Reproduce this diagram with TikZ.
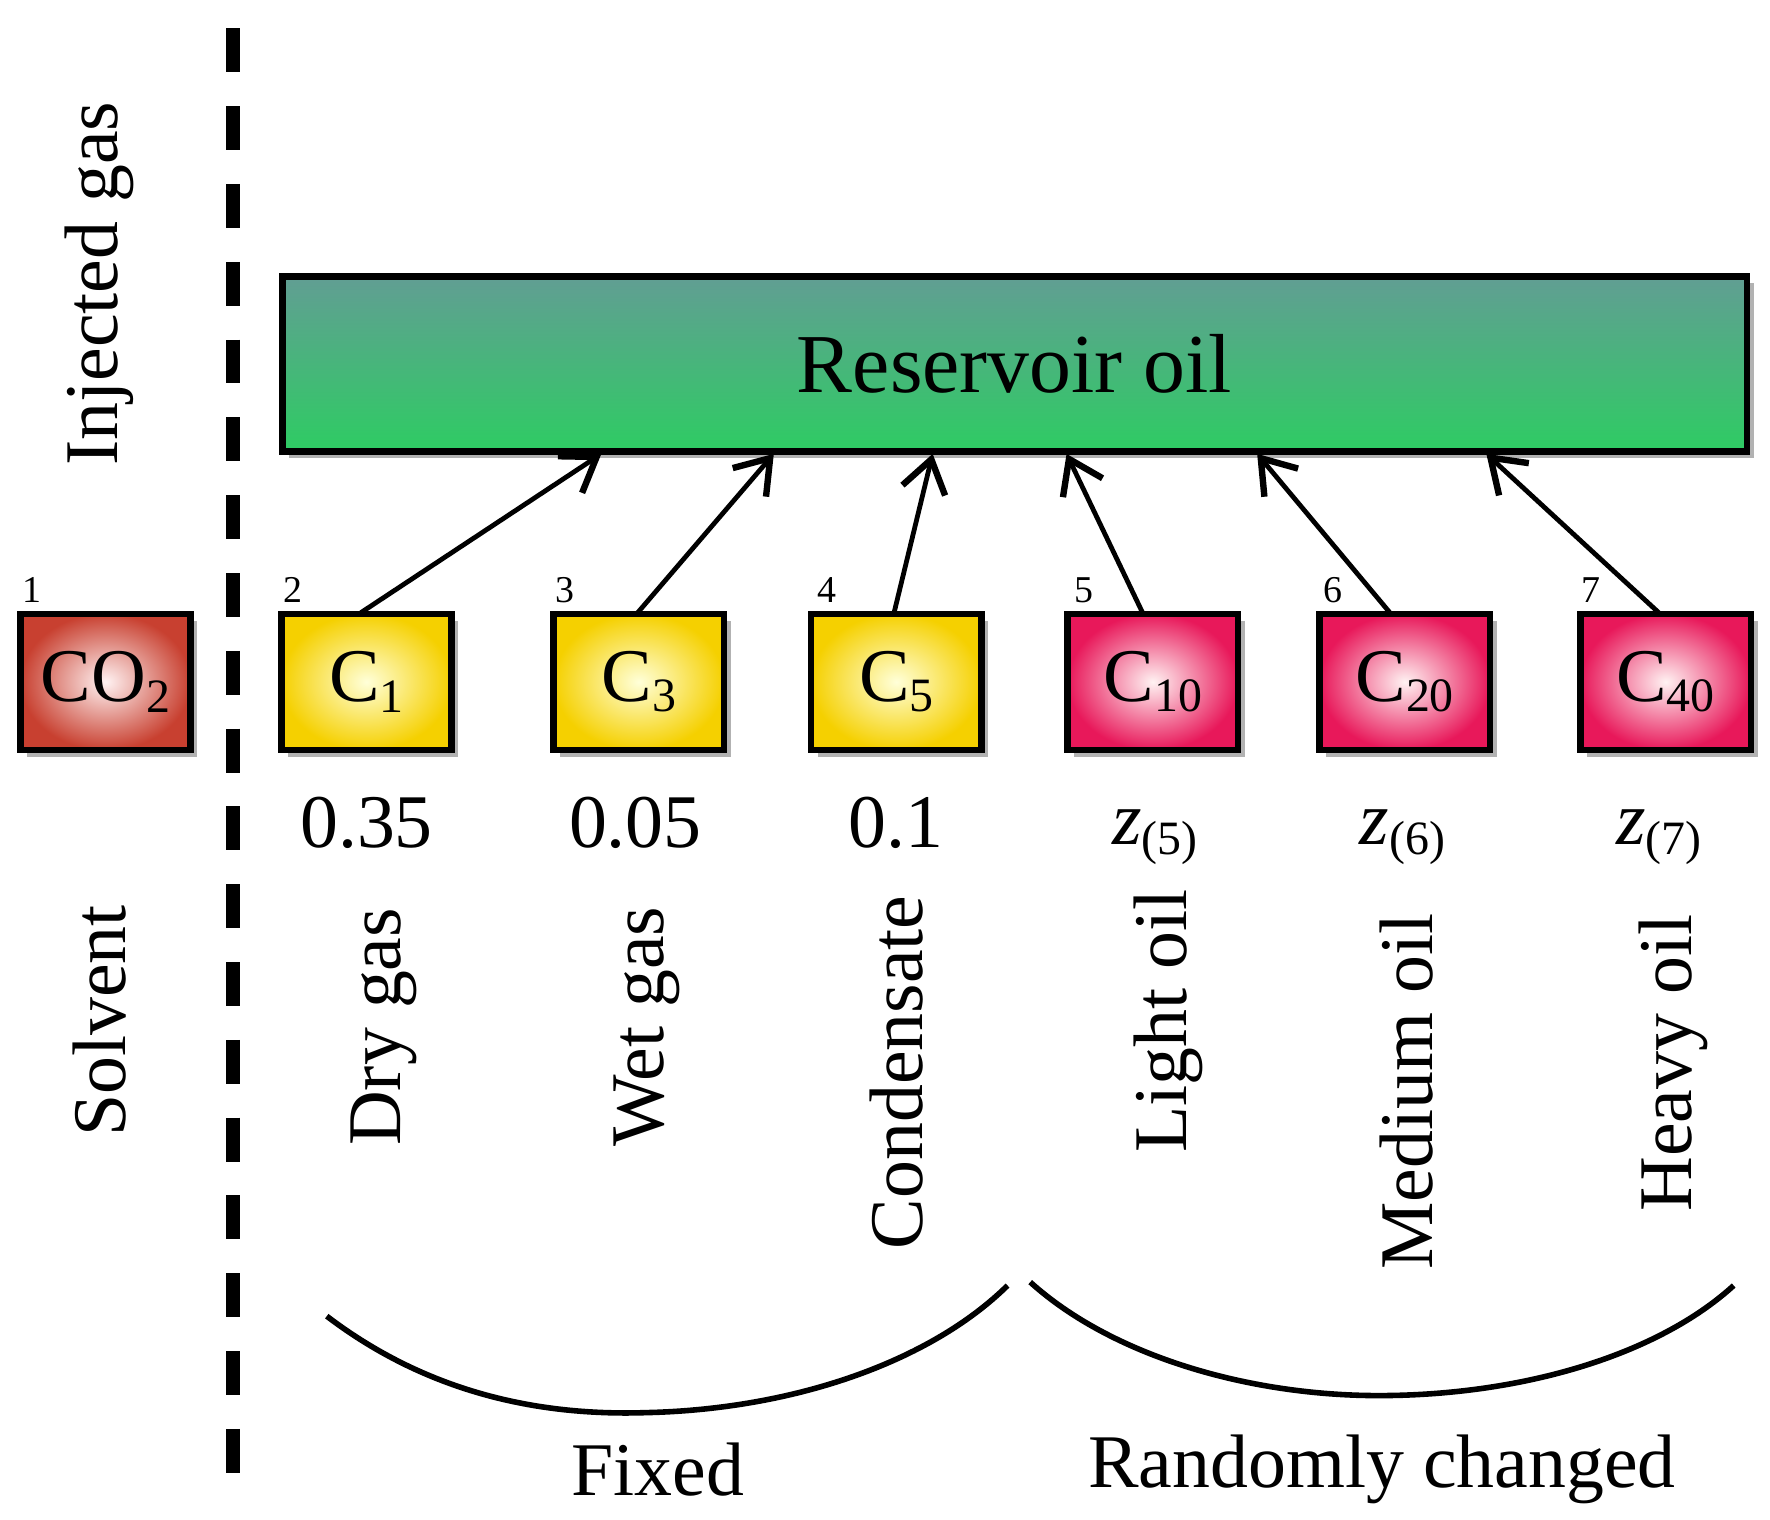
\documentclass[tikz,border=0pt]{standalone}
\usepackage{fontspec}
\setmainfont{Liberation Serif}
\usetikzlibrary{arrows.meta,shadows}
\newcommand{\sbs}[1]{\raisebox{-0.3ex}{\fontsize{12}{14}\selectfont #1}}
\begin{document}
\begin{tikzpicture}[x=0.01cm,y=-0.01cm,
  lab/.style={font=\fontsize{19}{22}\selectfont},
  num/.style={font=\fontsize{9.5}{11}\selectfont},
  comp/.style={draw=black,line width=1.6pt,minimum width=1.5cm,minimum height=1.2cm,inner sep=0pt,font=\fontsize{19}{22}\selectfont,drop shadow={shadow xshift=0.06cm,shadow yshift=-0.06cm,opacity=0.5,fill=black!60}},
  yel/.style={comp,inner color=yellow!15,outer color={rgb,255:red,245;green,208;blue,0}},
  pnk/.style={comp,inner color=white!80!pink,outer color={rgb,255:red,232;green,24;blue,90}},
  red/.style={comp,inner color=white!80!pink,outer color={rgb,255:red,200;green,64;blue,48}},
  arr/.style={line width=1.2pt,-{Straight Barb[length=8pt,width=11pt,line width=1.6pt]}},
  brace/.style={line width=1.4pt}]
\useasboundingbox (0,0) rectangle (1560,1339);
\draw[line width=3.5pt,dash pattern=on 11pt off 8.5pt] (205,25) -- (205,1325);
\node[lab,rotate=90] (inj) at (88,250) {Injected gas};
\node[lab,rotate=90] (sol) at (88,900) {Solvent};
\node[draw=black,line width=1.6pt,minimum width=12.9cm,minimum height=1.54cm,anchor=north west,
  top color={rgb,255:red,97;green,158;blue,147},bottom color={rgb,255:red,46;green,204;blue,99},
  font=\fontsize{21}{26}\selectfont,
  drop shadow={shadow xshift=0.06cm,shadow yshift=-0.06cm,opacity=0.5,fill=black!60}] (res) at (246,241) {Reservoir oil};
\node[red] (b1) at (93,601) {CO\sbs{2}};
\node[yel] (b2) at (323,601) {C\sbs{1}};
\node[yel] (b3) at (563,601) {C\sbs{3}};
\node[yel] (b4) at (790,601) {C\sbs{5}};
\node[pnk] (b5) at (1016,601) {C\sbs{10}};
\node[pnk] (b6) at (1238,601) {C\sbs{20}};
\node[pnk] (b7) at (1468,601) {C\sbs{40}};
\foreach \n/\x in {1/28,2/258,3/498,4/729,5/955,6/1175,7/1402}
  \node[num] (n\n) at (\x,520) {\n};
\coordinate (t2) at (530,400); \coordinate (t3) at (682,400); \coordinate (t4) at (822,400);
\coordinate (t5) at (940,400); \coordinate (t6) at (1108,400); \coordinate (t7) at (1310,400);
\coordinate (s2) at (318,540); \coordinate (s3) at (562,540); \coordinate (s4) at (788,540);
\coordinate (s5) at (1007,540); \coordinate (s6) at (1225,540); \coordinate (s7) at (1462,540);
\foreach \i in {2,...,7} \draw[arr] (s\i) -- (t\i);
\node[lab] (v2) at (323,725) {0.35};
\node[lab] (v3) at (560,725) {0.05};
\node[lab] (v4) at (790,725) {0.1};
\node[lab] (v5) at (1018,738) {\textit{z}\sbs{(5)}};
\node[lab] (v6) at (1236,738) {\textit{z}\sbs{(6)}};
\node[lab] (v7) at (1462,738) {\textit{z}\sbs{(7)}};
\node[lab,rotate=90] (l2) at (338,905) {Dry gas};
\node[lab,rotate=90] (l3) at (570,905) {Wet gas};
\node[lab,rotate=90] (l4) at (790,945) {Condensate};
\node[lab,rotate=90] (l5) at (1030,900) {Light oil};
\node[lab,rotate=90] (l6) at (1240,962) {Medium oil};
\node[lab,rotate=90] (l7) at (1475,937) {Heavy oil};
\draw[brace] (288,1160) .. controls (380,1230) and (480,1248) .. (570,1245) .. controls (700,1242) and (820,1200) .. (888,1133);
\draw[brace] (908,1130) .. controls (980,1195) and (1100,1230) .. (1215,1230) .. controls (1340,1230) and (1460,1195) .. (1528,1133);
\node[lab] (f) at (580,1295) {Fixed};
\node[lab] (r) at (1218,1295) {Randomly changed};
\end{tikzpicture}
\end{document}
